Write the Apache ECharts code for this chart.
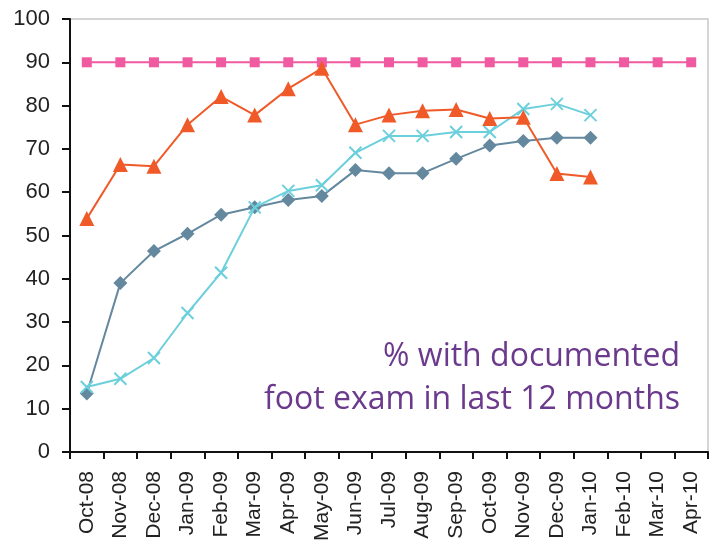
<!DOCTYPE html>
<html><head><meta charset="utf-8">
<script src="https://cdn.jsdelivr.net/npm/echarts@6/dist/echarts.min.js"></script>
<style>html,body{margin:0;padding:0;background:#fff}#c{width:726px;height:544px}</style>
</head><body><div id="c"></div>
<script>
var categories = ["Oct-08","Nov-08","Dec-08","Jan-09","Feb-09","Mar-09","Apr-09","May-09","Jun-09","Jul-09","Aug-09","Sep-09","Oct-09","Nov-09","Dec-09","Jan-10","Feb-10","Mar-10","Apr-10"];
var seriesTarget = [90,90,90,90,90,90,90,90,90,90,90,90,90,90,90,90,90,90,90];
var seriesDiamond = [13.5,39,46.4,50.4,54.8,56.5,58.2,59.1,65.1,64.4,64.4,67.7,70.8,71.8,72.6,72.6];
var seriesCross = [15,16.9,21.7,32.1,41.4,56.5,60.3,61.6,69.1,73.0,73.0,73.9,73.9,79.2,80.4,77.8];
var seriesTriangle = [53.9,66.4,66,75.6,82.1,77.8,83.9,88.6,75.6,77.8,78.8,79.1,77.0,77.3,64.3,63.5];
var yTicks = [0,10,20,30,40,50,60,70,80,90,100];
var noteLines = ['% with documented', 'foot exam in last 12 months'];

var chart = echarts.init(document.getElementById('c'));
chart.setOption({
  animation: false,
  grid: {left: 70, right: 18, top: 19, bottom: 92, show: true, borderColor: '#c8c8c8', borderWidth: 1.5},
  xAxis: {
    type: 'category', data: categories, boundaryGap: true,
    axisLine: {lineStyle: {color: '#111', width: 2}},
    axisTick: {show: true, length: 7, lineStyle: {color: '#111', width: 2}},
    axisLabel: {rotate: 90, fontFamily: 'Liberation Sans', fontSize: 21, color: '#222', margin: 19, interval: 0}
  },
  yAxis: {
    type: 'value', min: yTicks[0], max: yTicks[yTicks.length-1], interval: 10,
    axisLine: {show: true, lineStyle: {color: '#111', width: 2}},
    axisTick: {show: true, length: 8, lineStyle: {color: '#111', width: 2}},
    splitLine: {show: false},
    axisLabel: {fontFamily: 'Liberation Sans', fontSize: 22, color: '#222', margin: 20}
  },
  series: [
    {type: 'line', data: seriesTarget, symbol: 'rect', symbolSize: 10, itemStyle: {color: '#ef5aa1'}, lineStyle: {color: '#ef5aa1', width: 2}, z: 2},
    {type: 'line', data: seriesDiamond, symbol: 'diamond', symbolSize: 14, itemStyle: {color: '#64889e'}, lineStyle: {color: '#64889e', width: 2}, z: 3},
    {type: 'line', data: seriesCross, symbol: 'path://M0,0 L10,10 M10,0 L0,10', symbolSize: 12, showSymbol: true, itemStyle: {color: 'rgba(0,0,0,0)', borderColor: '#6ccfdc', borderWidth: 2}, lineStyle: {color: '#6ccfdc', width: 2}, z: 4},
    {type: 'line', data: seriesTriangle, symbol: 'triangle', symbolSize: 15, itemStyle: {color: '#f05a28'}, lineStyle: {color: '#f05a28', width: 2}, z: 5}
  ],
  graphic: [
    {type: 'text', x: 680, y: 373, style: {text: noteLines[0], align: 'right', verticalAlign: 'bottom', font: '32px "Open Sans"', fill: '#6b3a8c'}},
    {type: 'text', x: 680, y: 416, style: {text: noteLines[1], align: 'right', verticalAlign: 'bottom', font: '32px "Open Sans"', fill: '#6b3a8c'}}
  ]
});
</script></body></html>
